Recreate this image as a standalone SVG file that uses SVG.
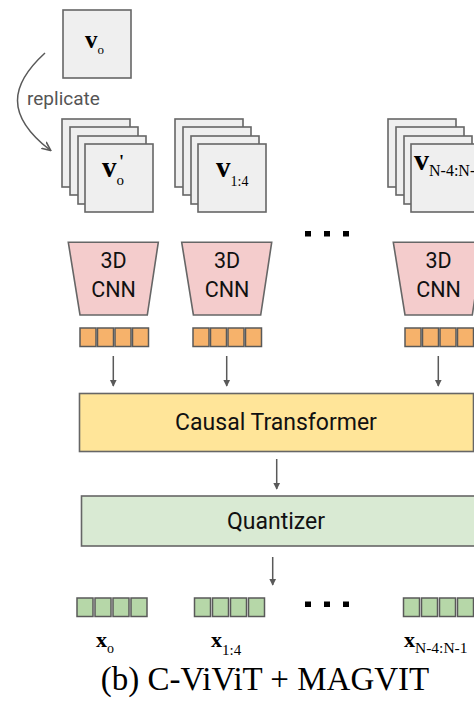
<svg xmlns="http://www.w3.org/2000/svg" width="474" height="704" viewBox="0 0 474 704">
  <style>
    .card { fill: #efefef; stroke: #666666; stroke-width: 1.6; }
    .cnn { fill: #f4cccc; stroke: #666666; stroke-width: 1.6; }
    .tok-o { fill: #f6b26b; stroke: #595959; stroke-width: 1.5; }
    .tok-g { fill: #b6d7a8; stroke: #595959; stroke-width: 1.5; }
    .conn { fill: none; stroke: #595959; stroke-width: 1.5; }
    .sans { font-family: Roboto, "Liberation Sans", Arial, sans-serif; fill: #111; }
    .serif { font-family: "Liberation Serif", "Times New Roman", serif; fill: #000; }
    .v { font-weight: bold; }
    .dot { fill: #000; }
  </style>
  <defs>
    <marker id="arr" viewBox="0 0 10 10" refX="9" refY="5" markerWidth="7" markerHeight="8" markerUnits="userSpaceOnUse" orient="auto">
      <path d="M0,0 L10,5 L0,10 z" fill="#595959"/>
    </marker>
    <marker id="arr-curve" viewBox="0 0 10 10" refX="8" refY="5" markerWidth="10" markerHeight="10" markerUnits="userSpaceOnUse" orient="auto">
      <path d="M0,1 L9,5 L0,9" fill="none" stroke="#595959" stroke-width="1.6"/>
    </marker>
    <g id="stack4">
      <rect class="card" x="0" y="0" width="68" height="68"/>
      <rect class="card" x="8" y="8" width="68" height="68"/>
      <rect class="card" x="16" y="17" width="68" height="68"/>
      <rect class="card" x="23" y="25" width="68" height="68"/>
    </g>
    <g id="tokens-o">
      <rect class="tok-o" x="0" y="0" width="16" height="18.5"/>
      <rect class="tok-o" x="17.5" y="0" width="16" height="18.5"/>
      <rect class="tok-o" x="35" y="0" width="16" height="18.5"/>
      <rect class="tok-o" x="52.5" y="0" width="16" height="18.5"/>
    </g>
    <g id="tokens-g">
      <rect class="tok-g" x="0" y="0" width="16" height="18.5"/>
      <rect class="tok-g" x="18" y="0" width="16" height="18.5"/>
      <rect class="tok-g" x="36" y="0" width="16" height="18.5"/>
      <rect class="tok-g" x="54" y="0" width="16" height="18.5"/>
    </g>
  </defs>

  <!-- first frame -->
  <g id="frame-v0">
    <rect class="card" x="63" y="10" width="68" height="68"/>
    <text class="serif" x="85" y="48" font-size="25"><tspan class="v">v</tspan><tspan font-size="13" dy="6">o</tspan></text>
  </g>

  <!-- replicated first frame -->
  <g id="stack-v0">
    <use href="#stack4" x="62" y="119"/>
    <text class="serif" x="102" y="177" font-size="29"><tspan class="v">v</tspan><tspan font-size="15" dy="8">o</tspan></text>
    <text class="serif" x="119" y="168" font-size="18" font-weight="bold">'</text>
  </g>

  <g id="stack-v1-4">
    <use href="#stack4" x="175" y="119"/>
    <text class="serif" x="216" y="177" font-size="29"><tspan class="v">v</tspan><tspan font-size="14" dy="9">1:4</tspan></text>
  </g>

  <g id="stack-vN">
    <use href="#stack4" x="388" y="119"/>
    <text class="serif" x="414" y="170" font-size="30"><tspan class="v">v</tspan><tspan font-size="16" dy="6">N-4:N-1</tspan></text>
  </g>

  <!-- encoders -->
  <g id="cnn-0">
    <polygon class="cnn" points="68.3,242.3 158.3,242.3 147.3,315 80,315"/>
    <text class="sans" x="113.5" y="268" font-size="21.5" text-anchor="middle">3D</text>
    <text class="sans" x="113.5" y="297" font-size="21.5" text-anchor="middle">CNN</text>
  </g>
  <g id="cnn-1">
    <polygon class="cnn" points="181.7,242.3 271.7,242.3 260.7,315 193.4,315"/>
    <text class="sans" x="227" y="268" font-size="21.5" text-anchor="middle">3D</text>
    <text class="sans" x="227" y="297" font-size="21.5" text-anchor="middle">CNN</text>
  </g>
  <g id="cnn-N">
    <polygon class="cnn" points="393.3,242.3 483.3,242.3 472.3,315 405,315"/>
    <text class="sans" x="438.5" y="268" font-size="21.5" text-anchor="middle">3D</text>
    <text class="sans" x="438.5" y="297" font-size="21.5" text-anchor="middle">CNN</text>
  </g>

  <!-- encoder tokens -->
  <g id="tokens-0"><use href="#tokens-o" x="80" y="328"/></g>
  <g id="tokens-1"><use href="#tokens-o" x="193" y="328"/></g>
  <g id="tokens-N"><use href="#tokens-o" x="405" y="328"/></g>

  <g id="ellipsis-top">
    <rect class="dot" x="305" y="231" width="6" height="5.5"/>
    <rect class="dot" x="324" y="231" width="6" height="5.5"/>
    <rect class="dot" x="343" y="231" width="6" height="5.5"/>
  </g>

  <g id="transformer">
    <rect x="79.5" y="393.5" width="394" height="58" fill="#ffe599" stroke="#666666" stroke-width="1.6"/>
    <text class="sans" x="276" y="430" font-size="23" text-anchor="middle">Causal Transformer</text>
  </g>

  <g id="quantizer">
    <rect x="81.5" y="496" width="400" height="50" fill="#d9ead3" stroke="#666666" stroke-width="1.6"/>
    <text class="sans" x="276" y="529" font-size="23" text-anchor="middle">Quantizer</text>
  </g>

  <!-- output tokens -->
  <g id="out-0"><use href="#tokens-g" x="77" y="598"/></g>
  <g id="out-1"><use href="#tokens-g" x="194.5" y="598"/></g>
  <g id="out-N"><use href="#tokens-g" x="403.5" y="598"/></g>

  <g id="ellipsis-bottom">
    <rect class="dot" x="305" y="601.5" width="6" height="5.5"/>
    <rect class="dot" x="324" y="601.5" width="6" height="5.5"/>
    <rect class="dot" x="343" y="601.5" width="6" height="5.5"/>
  </g>

  <g id="labels-x">
    <text class="serif" x="96" y="647" font-size="22"><tspan class="v">x</tspan><tspan font-size="14" dy="6">o</tspan></text>
    <text class="serif" x="211" y="647" font-size="22"><tspan class="v">x</tspan><tspan font-size="15" dy="8">1:4</tspan></text>
    <text class="serif" x="404" y="647" font-size="22"><tspan class="v">x</tspan><tspan font-size="15.5" dy="6">N-4:N-1</tspan></text>
  </g>

  <!-- connectors -->
  <g id="connectors">
    <path class="conn" d="M45,53 C10,85 5,115 50,150" marker-end="url(#arr-curve)"/>
    <line class="conn" x1="113.3" y1="356" x2="113.3" y2="386" marker-end="url(#arr)"/>
    <line class="conn" x1="226.7" y1="356" x2="226.7" y2="386" marker-end="url(#arr)"/>
    <line class="conn" x1="438.3" y1="356" x2="438.3" y2="386" marker-end="url(#arr)"/>
    <line class="conn" x1="276.7" y1="459" x2="276.7" y2="489" marker-end="url(#arr)"/>
    <line class="conn" x1="272.7" y1="557" x2="272.7" y2="585" marker-end="url(#arr)"/>
  </g>

  <text class="sans" x="27" y="105" font-size="19" style="fill:#555555">replicate</text>

  <text class="serif" x="265" y="690" font-size="33" text-anchor="middle">(b) C-ViViT + MAGVIT</text>
</svg>
